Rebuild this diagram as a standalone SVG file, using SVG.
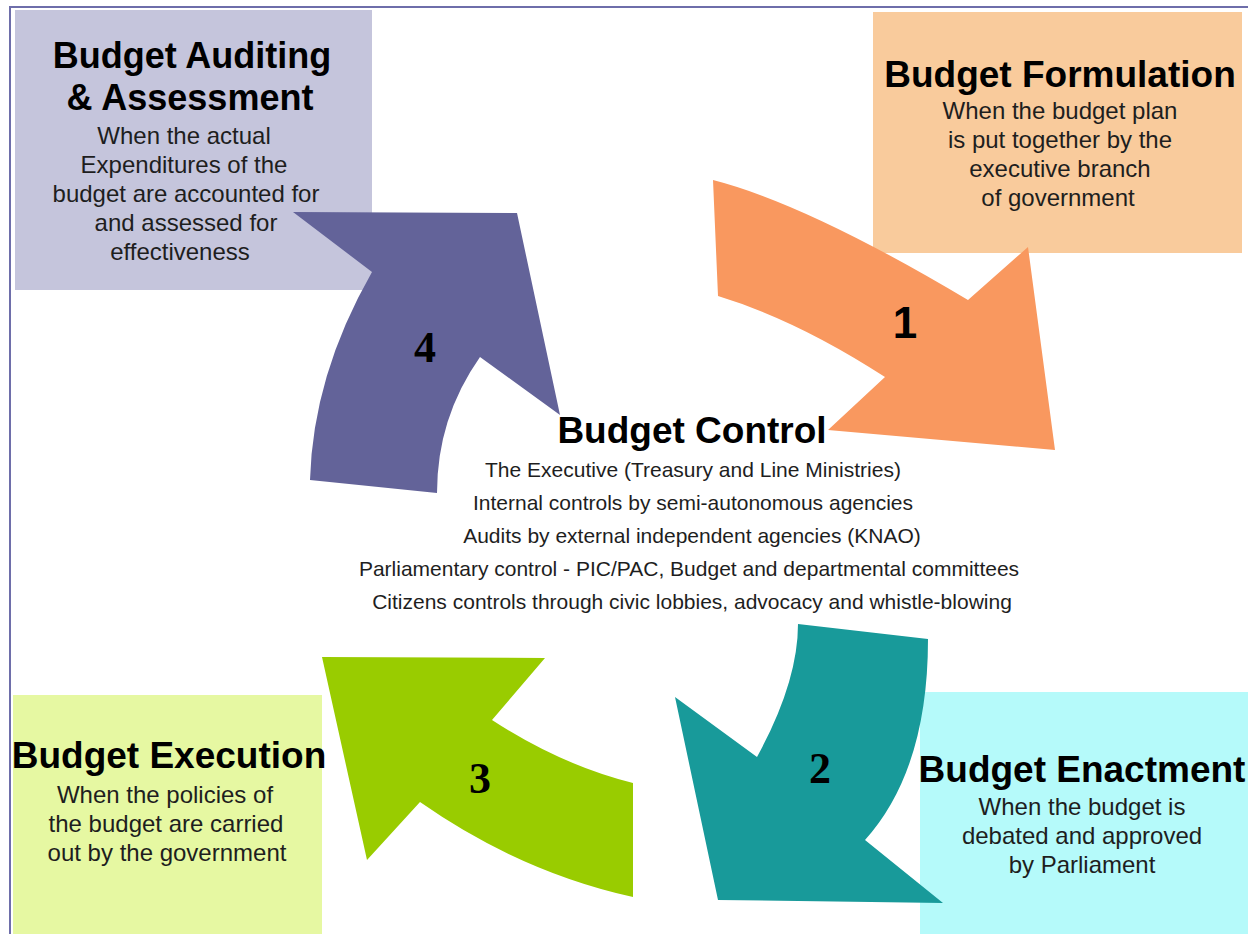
<svg xmlns="http://www.w3.org/2000/svg" width="1248" height="934" viewBox="0 0 1248 934">
<style>
.title{font-family:"Liberation Sans",Arial,sans-serif;font-weight:bold;fill:#000;text-anchor:middle}
.body{font-family:"Liberation Sans",Arial,sans-serif;font-size:24px;fill:#1e1e1e;text-anchor:middle}
.ctl{font-family:"Liberation Sans",Arial,sans-serif;font-size:21px;fill:#1e1e1e;text-anchor:middle}
.numS{font-family:"Liberation Sans",Arial,sans-serif;font-weight:bold;font-size:44px;fill:#000;text-anchor:middle}
.numT{font-family:"Liberation Serif","Times New Roman",serif;font-weight:bold;font-size:44px;fill:#000;text-anchor:middle}
.frame{stroke:#6e6eaa;stroke-width:2;fill:none}
</style>
<rect x="0" y="0" width="1248" height="934" fill="#ffffff"/>
<path class="frame" d="M10,934 L10,7 L1248,7"/>

<g id="box-auditing">
<rect x="15" y="10" width="357" height="280" fill="#c5c5dc"/>
</g>
<g id="box-formulation">
<rect x="873" y="12" width="369" height="241" fill="#f9cb9c"/>
</g>
<g id="box-execution">
<rect x="13" y="695" width="309" height="239" fill="#e6f8a2"/>
</g>
<g id="box-enactment">
<rect x="920" y="692" width="328" height="242" fill="#b5fafa"/>
</g>

<g id="connectors">
<path id="arrow1" d="M713,180 Q807,204 968,300 L1028,247 L1055,450 L828,430 L885,377 Q797,320 718,296 Z" fill="#f9985f"/>
<path id="arrow2" d="M798,624 L928,639 Q928,770 865,840 L943,903 L718,900 L675,697 L757,757 Q798,682 798,624 Z" fill="#189a9a"/>
<path id="arrow3" d="M322,657 L545,658 L492,720 Q561,765 633,783 L633,897 Q520,872 420,802 L367,860 Z" fill="#99cc00"/>
<path id="arrow4" d="M293,212 L517,213 L560,415 L480,357 Q437,418 437,493 L310,480 Q313,375 372,272 Z" fill="#636399"/>
<text class="numS" x="905" y="338">1</text>
<text class="numT" x="820" y="783">2</text>
<text class="numT" x="480" y="793">3</text>
<text class="numT" x="425" y="362">4</text>
</g>

<g id="text-auditing">
<text class="title" x="192" y="68" font-size="36">Budget Auditing</text>
<text class="title" x="190" y="110" font-size="36">&amp; Assessment</text>
<text class="body" x="184" y="144">When the actual</text>
<text class="body" x="184" y="173">Expenditures of the</text>
<text class="body" x="186" y="202">budget are accounted for</text>
<text class="body" x="186" y="231">and assessed for</text>
<text class="body" x="180" y="260">effectiveness</text>
</g>

<g id="text-formulation">
<text class="title" x="1060" y="87" font-size="37">Budget Formulation</text>
<text class="body" x="1060" y="119">When the budget plan</text>
<text class="body" x="1060" y="148">is put together by the</text>
<text class="body" x="1060" y="177">executive branch</text>
<text class="body" x="1058" y="206">of government</text>
</g>

<g id="text-execution">
<text class="title" x="169" y="768" font-size="37">Budget Execution</text>
<text class="body" x="165" y="803">When the policies of</text>
<text class="body" x="166" y="832">the budget are carried</text>
<text class="body" x="167" y="861">out by the government</text>
</g>

<g id="text-enactment">
<text class="title" x="1082" y="782" font-size="37">Budget Enactment</text>
<text class="body" x="1082" y="815">When the budget is</text>
<text class="body" x="1082" y="844">debated and approved</text>
<text class="body" x="1082" y="873">by Parliament</text>
</g>

<g id="budget-control">
<text class="title" x="692" y="443" font-size="37">Budget Control</text>
<text class="ctl" x="693" y="477">The Executive (Treasury and Line Ministries)</text>
<text class="ctl" x="693" y="510">Internal controls by semi-autonomous agencies</text>
<text class="ctl" x="692" y="543">Audits by external independent agencies (KNAO)</text>
<text class="ctl" x="689" y="576">Parliamentary control - PIC/PAC, Budget and departmental committees</text>
<text class="ctl" x="692" y="609">Citizens controls through civic lobbies, advocacy and whistle-blowing</text>
</g>
</svg>
